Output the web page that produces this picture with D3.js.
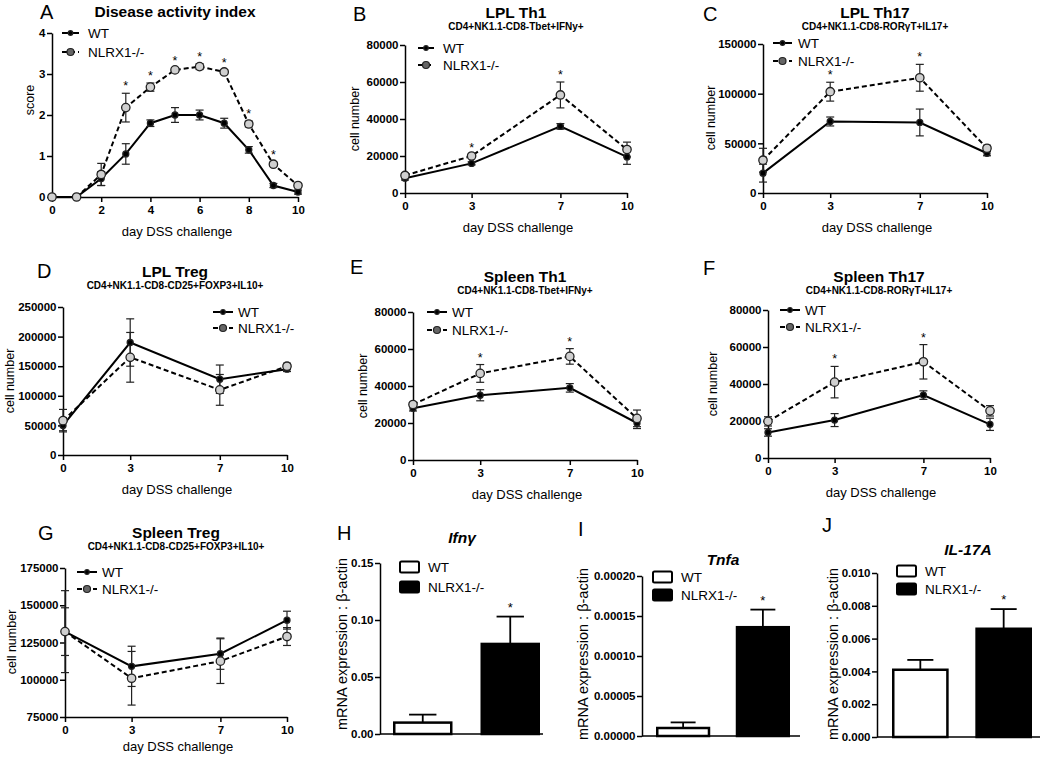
<!DOCTYPE html>
<html>
<head>
<meta charset="utf-8">
<script src="https://cdn.jsdelivr.net/npm/d3@7"></script>
<style>
body { margin: 0; background: #fff; }
</style>
</head>
<body>
<svg id="fig" width="1050" height="758"></svg>
<script>
// ---- data ----
var groups = ["WT", "NLRX1-/-"];

// A: disease activity index
var daiDays = [0, 1, 2, 3, 4, 5, 6, 7, 8, 9, 10];
var daiWT = [0, 0, 0.45, 1.05, 1.8, 2.0, 2.0, 1.8, 1.15, 0.28, 0.12];
var daiWTErr = [0, 0, 0.17, 0.25, 0.08, 0.18, 0.12, 0.12, 0.08, 0.05, 0.05];
var daiKO = [0, 0, 0.55, 2.18, 2.68, 3.1, 3.18, 3.05, 1.78, 0.8, 0.28];
var daiKOErr = [0, 0, 0.27, 0.35, 0.1, 0.05, 0.07, 0.05, 0.07, 0.05, 0.04];
var daiStars = [3, 4, 5, 6, 7, 8, 9];
var daiXTicks = [0, 2, 4, 6, 8, 10];
var daiYTicks = [0, 1, 2, 3, 4];

// B-G: cell numbers on challenge days
var days = [0, 3, 7, 10];

var lplTh1WT = [8000, 16000, 36000, 19500];
var lplTh1WTErr = [1000, 800, 1500, 4000];
var lplTh1KO = [9500, 20000, 53000, 23500];
var lplTh1KOErr = [1200, 700, 7000, 4000];
var lplTh1Stars = [3, 7];

var lplTh17WT = [20000, 72000, 71000, 40000];
var lplTh17WTErr = [9000, 4500, 13500, 2500];
var lplTh17KO = [33000, 102000, 116000, 45000];
var lplTh17KOErr = [12000, 9500, 13500, 3000];
var lplTh17Stars = [3, 7];

var lplTregWT = [50000, 190000, 128000, 145000];
var lplTregWTErr = [9000, 40000, 24000, 4000];
var lplTregKO = [58000, 165000, 110000, 150000];
var lplTregKOErr = [19000, 42000, 26000, 5000];
var lplTregStars = [];

var splTh1WT = [28000, 35000, 39000, 20000];
var splTh1WTErr = [1500, 3000, 2300, 3000];
var splTh1KO = [30000, 46800, 56000, 22500];
var splTh1KOErr = [1000, 4800, 4200, 4500];
var splTh1Stars = [3, 7];

var splTh17WT = [13800, 20500, 34000, 18200];
var splTh17WTErr = [2000, 3500, 2300, 3300];
var splTh17KO = [19800, 41000, 52000, 25500];
var splTh17KOErr = [2500, 8500, 9300, 2800];
var splTh17Stars = [3, 7];

var splTregWT = [132300, 109000, 117500, 140000];
var splTregWTErr = [27500, 13500, 10500, 6000];
var splTregKO = [132300, 101000, 112500, 129000];
var splTregKOErr = [16000, 18000, 15000, 6000];
var splTregStars = [];

var dayTicks = [0, 3, 7, 10];
var ticks80k = [0, 20000, 40000, 60000, 80000];
var ticks150k = [0, 50000, 100000, 150000];
var ticks250k = [0, 50000, 100000, 150000, 200000, 250000];
var ticks175k = [75000, 100000, 125000, 150000, 175000];

// H-J: mRNA expression
var ifngMean = [0.010, 0.079];
var ifngErr = [0.007, 0.024];
var ifngTicks = [0, 0.05, 0.10, 0.15];

var tnfaMean = [0.00001, 0.000136];
var tnfaErr = [0.000007, 0.000022];
var tnfaTicks = [0, 0.00005, 0.00010, 0.00015, 0.00020];

var il17Mean = [0.0041, 0.0066];
var il17Err = [0.0006, 0.0012];
var il17Ticks = [0, 0.002, 0.004, 0.006, 0.008, 0.010];

// ---- drawing ----
var FONT = "'Liberation Sans', Arial, sans-serif";
var svg = d3.select("#fig");

function styleAxis(sel) {
  sel.attr("font-family", FONT).attr("font-size", 11.5).attr("font-weight", "bold");
  sel.selectAll("path, line").attr("stroke", "#000").attr("stroke-width", 1.5);
  sel.selectAll("text").attr("fill", "#000");
}

function addText(g, x, y, s, size, weight, anchor, style) {
  return g.append("text").attr("x", x).attr("y", y).text(s)
    .attr("font-family", FONT).attr("font-size", size)
    .attr("font-weight", weight || "normal")
    .attr("font-style", style || "normal")
    .attr("text-anchor", anchor || "start");
}

function yLabel(g, x, y, s, size) {
  g.append("text").attr("transform", "translate(" + x + "," + y + ") rotate(-90)")
    .attr("dy", "0.35em").attr("text-anchor", "middle")
    .attr("font-family", FONT).attr("font-size", size).text(s);
}

function linePanel(c) {
  var g = svg.append("g");
  var x = d3.scaleLinear().domain([0, 10]).range([c.x0, c.x1]);
  var y = d3.scaleLinear().domain([c.yTicks[0], c.yTicks[c.yTicks.length - 1]]).range([c.yBot, c.yTop]);

  g.append("g").attr("transform", "translate(0," + c.yBot + ")")
    .call(d3.axisBottom(x).tickValues(c.xTicks).tickSize(5).tickSizeOuter(0).tickPadding(4).tickFormat(d3.format("d")))
    .call(styleAxis);
  g.append("g").attr("transform", "translate(" + c.x0 + ",0)")
    .call(d3.axisLeft(y).tickValues(c.yTicks).tickSize(5).tickSizeOuter(0).tickPadding(1.5).tickFormat(d3.format("d")))
    .call(styleAxis);

  addText(g, c.letter[1], c.letter[2], c.letter[0], 20);
  addText(g, (c.x0 + c.x1) / 2, c.titleY, c.title, 15.5, "bold", "middle");
  if (c.sub) addText(g, (c.x0 + c.x1) / 2, c.titleY + 12, c.sub, 10, "bold", "middle");
  addText(g, (c.x0 + c.x1) / 2 + 2, c.yBot + (c.xlabOff || 39), "day DSS challenge", 13, "normal", "middle");
  yLabel(g, c.ylab[0], c.ylab[1], c.ylab[2], 12.5);

  var series = [
    { v: c.wt, e: c.wtErr, dash: null, r: 3, fill: "#000" },
    { v: c.ko, e: c.koErr, dash: "5,3", r: 4.2, fill: "#d0d0d0" }
  ];
  var line = d3.line().x(function(d, i) { return x(c.days[i]); }).y(function(d) { return y(d); });

  series.forEach(function(s) {
    g.append("path").datum(s.v).attr("d", line).attr("fill", "none")
      .attr("stroke", "#000").attr("stroke-width", 2).attr("stroke-dasharray", s.dash);
    s.v.forEach(function(v, i) {
      if (!s.e[i]) return;
      var cx = x(c.days[i]), y1 = y(v + s.e[i]), y2 = y(v - s.e[i]);
      g.append("line").attr("x1", cx).attr("x2", cx).attr("y1", y1).attr("y2", y2).attr("stroke", "#222").attr("stroke-width", 1.2);
      [y1, y2].forEach(function(yy) {
        g.append("line").attr("x1", cx - 4).attr("x2", cx + 4).attr("y1", yy).attr("y2", yy).attr("stroke", "#222").attr("stroke-width", 1.2);
      });
    });
  });
  series.forEach(function(s) {
    g.selectAll(null).data(s.v).enter().append("circle")
      .attr("cx", function(d, i) { return x(c.days[i]); }).attr("cy", function(d) { return y(d); })
      .attr("r", s.r).attr("fill", s.fill).attr("stroke", "#222").attr("stroke-width", 1.3);
  });

  c.stars.forEach(function(d) {
    var i = c.days.indexOf(d);
    addText(g, x(d), y(c.ko[i] + c.koErr[i]) - 3, "*", 12.5, "normal", "middle");
  });

  // legend
  var L = c.legend;
  series.forEach(function(s, i) {
    var ly = L.y + i * L.dy;
    g.append("line").attr("x1", L.x).attr("x2", L.x + L.len).attr("y1", ly).attr("y2", ly)
      .attr("stroke", "#000").attr("stroke-width", 2).attr("stroke-dasharray", s.dash);
    g.append("circle").attr("cx", L.x + L.len / 2).attr("cy", ly).attr("r", s.r - 0.7)
      .attr("fill", i ? "#666" : "#000").attr("stroke", "#222").attr("stroke-width", 1.2);
    addText(g, L.tx, ly, groups[i], 13.5).attr("dy", "0.35em");
  });
}

function barPanel(c) {
  var g = svg.append("g");
  var x = d3.scaleBand().domain(groups).range([c.b0, c.b1]).paddingInner(0.32);
  var y = d3.scaleLinear().domain([0, c.yTicks[c.yTicks.length - 1]]).range([c.yBot, c.yTop]);

  g.append("g").attr("transform", "translate(" + c.x0 + ",0)")
    .call(d3.axisLeft(y).tickValues(c.yTicks).tickSize(5).tickSizeOuter(0).tickPadding(1.5).tickFormat(d3.format(c.fmt)))
    .call(styleAxis);
  g.append("line").attr("x1", c.x0).attr("x2", c.xEnd).attr("y1", y(0)).attr("y2", y(0))
    .attr("stroke", "#000").attr("stroke-width", 1.5);

  addText(g, c.letter[1], c.letter[2], c.letter[0], 20);
  addText(g, c.title[1], c.title[2], c.title[0], 15.5, "bold", "middle", "italic");
  yLabel(g, c.ylab[0], c.ylab[1], "mRNA expression : \u03b2-actin", 14.5);

  var bw = x.bandwidth();
  groups.forEach(function(k, i) {
    var v = c.mean[i], e = c.err[i], cx = x(k) + bw / 2;
    g.append("line").attr("x1", cx).attr("x2", cx).attr("y1", y(v)).attr("y2", y(v + e)).attr("stroke", "#000").attr("stroke-width", 1.8);
    g.append("line").attr("x1", cx - bw * 0.23).attr("x2", cx + bw * 0.23).attr("y1", y(v + e)).attr("y2", y(v + e)).attr("stroke", "#000").attr("stroke-width", 1.8);
    g.append("rect").attr("x", x(k) + 1.25).attr("y", y(v)).attr("width", bw - 2.5).attr("height", y(0) - y(v))
      .attr("fill", i ? "#000" : "#fff").attr("stroke", "#000").attr("stroke-width", 2.5);
  });
  var ki = 1;
  addText(g, x(groups[ki]) + bw / 2, y(c.mean[ki] + c.err[ki]) - 5, "*", 13, "normal", "middle");

  groups.forEach(function(k, i) {
    var ly = c.legend.y + i * c.legend.dy;
    g.append("rect").attr("x", c.legend.x).attr("y", ly - 5.5).attr("width", 19).attr("height", 11).attr("rx", 1.5)
      .attr("fill", i ? "#000" : "#fff").attr("stroke", "#000").attr("stroke-width", 2);
    addText(g, c.legend.x + 28, ly, k, 13.5).attr("dy", "0.35em");
  });
}

var NLRX = "CD4+NK1.1-CD8-";

linePanel({ letter: ["A", 40, 19], title: "Disease activity index", sub: null, titleY: 17,
  x0: 52, x1: 298, yTop: 33, yBot: 197, xTicks: daiXTicks, yTicks: daiYTicks,
  days: daiDays, wt: daiWT, wtErr: daiWTErr, ko: daiKO, koErr: daiKOErr, stars: daiStars,
  ylab: [30, 100, "score"], legend: { x: 62, y: 33, dy: 19, len: 17, tx: 88 } });

linePanel({ letter: ["B", 353, 21], title: "LPL Th1", sub: NLRX + "Tbet+IFNy+", titleY: 18,
  x0: 405, x1: 627, yTop: 45, yBot: 193, xTicks: dayTicks, yTicks: ticks80k,
  days: days, wt: lplTh1WT, wtErr: lplTh1WTErr, ko: lplTh1KO, koErr: lplTh1KOErr, stars: lplTh1Stars,
  ylab: [355, 119, "cell number"], legend: { x: 418, y: 48, dy: 17, len: 16, tx: 443 } });

linePanel({ letter: ["C", 703, 21], title: "LPL Th17", sub: NLRX + "ROR\u03b3T+IL17+", titleY: 18,
  x0: 763, x1: 987, yTop: 44, yBot: 193, xTicks: dayTicks, yTicks: ticks150k,
  days: days, wt: lplTh17WT, wtErr: lplTh17WTErr, ko: lplTh17KO, koErr: lplTh17KOErr, stars: lplTh17Stars,
  ylab: [711, 118, "cell number"], legend: { x: 773, y: 43, dy: 18, len: 19, tx: 798 } });

linePanel({ letter: ["D", 37, 278], title: "LPL Treg", sub: NLRX + "CD25+FOXP3+IL10+", titleY: 277,
  x0: 63, x1: 287, yTop: 307, yBot: 455, xTicks: dayTicks, yTicks: ticks250k,
  days: days, wt: lplTregWT, wtErr: lplTregWTErr, ko: lplTregKO, koErr: lplTregKOErr, stars: lplTregStars,
  ylab: [10, 381, "cell number"], legend: { x: 213, y: 312, dy: 16, len: 20, tx: 238 } });

linePanel({ letter: ["E", 350, 274], title: "Spleen Th1", sub: NLRX + "Tbet+IFNy+", titleY: 282,
  x0: 413, x1: 637, yTop: 312, yBot: 460, xTicks: dayTicks, yTicks: ticks80k,
  days: days, wt: splTh1WT, wtErr: splTh1WTErr, ko: splTh1KO, koErr: splTh1KOErr, stars: splTh1Stars,
  ylab: [363, 386, "cell number"], legend: { x: 427, y: 312, dy: 18, len: 20, tx: 452 } });

linePanel({ letter: ["F", 703, 275], title: "Spleen Th17", sub: NLRX + "ROR\u03b3T+IL17+", titleY: 282,
  x0: 768, x1: 990, yTop: 310, yBot: 458, xTicks: dayTicks, yTicks: ticks80k,
  days: days, wt: splTh17WT, wtErr: splTh17WTErr, ko: splTh17KO, koErr: splTh17KOErr, stars: splTh17Stars,
  ylab: [713, 384, "cell number"], legend: { x: 780, y: 310, dy: 17, len: 20, tx: 805 } });

linePanel({ letter: ["G", 38, 540], title: "Spleen Treg", sub: NLRX + "CD25+FOXP3+IL10+", titleY: 538,
  x0: 65, x1: 287, yTop: 568, yBot: 717, xTicks: dayTicks, yTicks: ticks175k, xlabOff: 34,
  days: days, wt: splTregWT, wtErr: splTregWTErr, ko: splTregKO, koErr: splTregKOErr, stars: splTregStars,
  ylab: [12, 642, "cell number"], legend: { x: 77, y: 572, dy: 17, len: 20, tx: 102 } });

barPanel({ letter: ["H", 337, 540], title: ["Ifn\u03b3", 462, 543], fmt: ".2f",
  x0: 380, xEnd: 543, b0: 393, b1: 540, yTop: 563, yBot: 734, yTicks: ifngTicks,
  mean: ifngMean, err: ifngErr, ylab: [342, 644], legend: { x: 400, y: 567, dy: 20 } });

barPanel({ letter: ["I", 578, 536], title: ["Tnfa", 723, 565], fmt: ".5f",
  x0: 642, xEnd: 800, b0: 656, b1: 790, yTop: 576, yBot: 736, yTicks: tnfaTicks,
  mean: tnfaMean, err: tnfaErr, ylab: [583, 654], legend: { x: 653, y: 577, dy: 18 } });

barPanel({ letter: ["J", 822, 532], title: ["IL-17A", 968, 555], fmt: ".3f",
  x0: 877, xEnd: 1040, b0: 892, b1: 1032, yTop: 573, yBot: 737, yTicks: il17Ticks,
  mean: il17Mean, err: il17Err, ylab: [833, 654], legend: { x: 897, y: 571, dy: 18 } });
</script>
</body>
</html>
